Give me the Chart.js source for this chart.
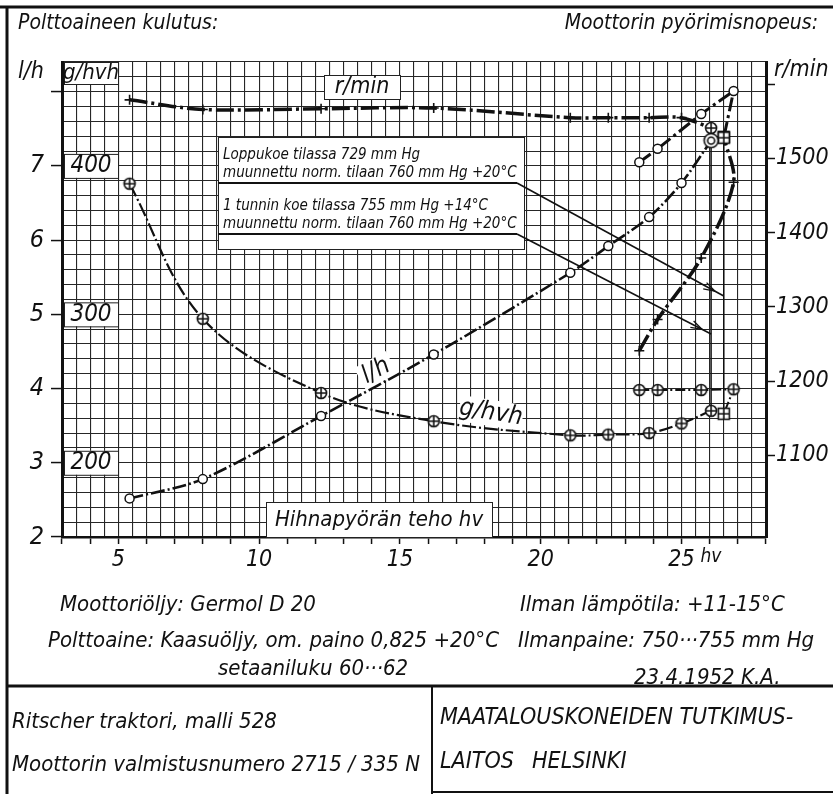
<!DOCTYPE html>
<html>
<head>
<meta charset="utf-8">
<script src="https://cdn.jsdelivr.net/npm/chart.js@4"></script>
<style>
  html, body { margin: 0; padding: 0; background: #fff; }
  #wrap { width: 833px; height: 794px; }
</style>
</head>
<body>
<div id="wrap"><canvas id="kulutusChart" width="833" height="794"></canvas></div>
<script>
// Säädetty alue (1 tunnin koe -pisteeseen asti)
const tehoHv      = [5.4, 8.0, 12.2, 16.2, 21.05, 22.4, 23.85, 25.0, 26.05];
const kulutusLh   = [2.52, 2.78, 3.63, 4.46, 5.56, 5.92, 6.31, 6.77, 7.34];
const kulutusGhvh = [388, 297, 247, 228, 218.5, 219, 220, 226.5, 235];
const kierrosluku = [1579, 1566, 1567, 1568, 1555, 1555, 1555, 1555, 1541];

// Ylikuormitusalue + loppukoe
const ylikuormaHv   = [23.5, 24.15, 25.7, 26.85];
const ylikuormaLh   = [7.05, 7.23, 7.70, 8.01];
const ylikuormaGhvh = [249, 249, 249, 249.5];
const ylikuormaRpm  = [1241, 1283, 1366, 1468];
const loppukoeHv = [26.5];
const loppukoeLh = [7.38];
const loppukoeGhvh = [233];
const loppukoeRpm = [1529];

// akselien merkinnät
const tehoTicks = [5, 10, 15, 20, 25];
const lhTicks   = [2, 3, 4, 5, 6, 7];
const ghvhTicks = [200, 300, 400];
const rpmTicks  = [1100, 1200, 1300, 1400, 1500];

const F = '"Liberation Sans Narrow", "DejaVu Sans Condensed", "Liberation Sans", sans-serif';
const font = size => 'italic ' + size + 'px ' + F;

function makeMarker(kind, r) {
  const s = Math.ceil(r * 2 + 5), c = document.createElement('canvas');
  c.width = s; c.height = s;
  const g = c.getContext('2d'), m = s / 2;
  g.strokeStyle = '#111'; g.fillStyle = '#fff'; g.lineWidth = 1.6;
  if (kind === 'square') {
    g.fillRect(m - r, m - r, 2 * r, 2 * r); g.strokeRect(m - r, m - r, 2 * r, 2 * r);
  } else {
    g.beginPath(); g.arc(m, m, r, 0, Math.PI * 2); g.fill(); g.stroke();
  }
  g.beginPath();
  if (kind === 'double') {
    g.arc(m, m, r * 0.5, 0, Math.PI * 2);
  } else {
    g.moveTo(m, m - r); g.lineTo(m, m + r); g.moveTo(m - r, m); g.lineTo(m + r, m);
  }
  g.stroke();
  return c;
}
const merkit = {
  oplus: makeMarker('oplus', 5.5),
  ruutu: makeMarker('square', 5.5),
  kaksois: makeMarker('double', 7)
};

const pts = (xs, ys) => xs.map((x, i) => ({ x: x, y: ys[i] }));
const lastIs = (n, special, normal) => c => (c.dataIndex === n - 1 ? special : normal);

const nG = tehoHv.length;
const datasets = [
  {
    label: 'g/hvh',
    yAxisID: 'yG',
    data: pts(tehoHv, kulutusGhvh),
    borderColor: '#111', borderWidth: 2.2, borderDash: [14, 3, 2, 3],
    tension: 0.35,
    pointStyle: c => merkit.oplus
  },
  {
    label: 'g/hvh ylikuorma',
    yAxisID: 'yG',
    data: pts(ylikuormaHv.concat(loppukoeHv), ylikuormaGhvh.concat(loppukoeGhvh)),
    borderColor: '#111', borderWidth: 2, borderDash: [10, 3, 2, 3],
    tension: 0,
    pointStyle: lastIs(5, merkit.ruutu, merkit.oplus)
  },
  {
    label: 'l/h',
    yAxisID: 'y',
    data: pts(tehoHv, kulutusLh),
    borderColor: '#111', borderWidth: 2.6, borderDash: [14, 3, 2, 3],
    tension: 0.3,
    pointStyle: lastIs(nG, merkit.kaksois, 'circle'),
    pointRadius: 4.5, pointBackgroundColor: '#fff', pointBorderColor: '#111', pointBorderWidth: 1.5
  },
  {
    label: 'l/h ylikuorma',
    yAxisID: 'y',
    data: pts(ylikuormaHv.concat(loppukoeHv), ylikuormaLh.concat(loppukoeLh)),
    borderColor: '#111', borderWidth: 3, borderDash: [14, 4, 3, 4],
    tension: 0,
    pointStyle: lastIs(5, merkit.ruutu, 'circle'),
    pointRadius: 4.5, pointBackgroundColor: '#fff', pointBorderColor: '#111', pointBorderWidth: 1.5
  },
  {
    label: 'r/min',
    yAxisID: 'yR',
    data: pts(tehoHv, kierrosluku),
    borderColor: '#111', borderWidth: 3.5, borderDash: [18, 4, 3, 4],
    tension: 0.3,
    pointStyle: lastIs(nG, merkit.oplus, 'cross'),
    pointRadius: 5, pointBorderColor: '#111', pointBorderWidth: 1.6
  },
  {
    label: 'r/min ylikuorma',
    yAxisID: 'yR',
    data: pts(ylikuormaHv.concat(loppukoeHv), ylikuormaRpm.concat(loppukoeRpm)),
    borderColor: '#111', borderWidth: 3.5, borderDash: [18, 4, 3, 4],
    tension: 0.3,
    pointStyle: lastIs(5, merkit.ruutu, 'cross'),
    pointRadius: 5, pointBorderColor: '#111', pointBorderWidth: 1.6
  }
];

const near = (v, list) => list.some(t => Math.abs(t - v) < 1e-6);

function box(ctx, l, t, w, h) {
  ctx.fillStyle = '#fff';
  ctx.fillRect(l, t, w, h);
  ctx.strokeStyle = '#222';
  ctx.lineWidth = 1;
  ctx.strokeRect(l + 0.5, t + 0.5, w, h);
}
function text(ctx, s, xx, yy, size, align) {
  ctx.font = font(size);
  ctx.fillStyle = '#111';
  ctx.textAlign = align || 'left';
  ctx.textBaseline = 'middle';
  ctx.fillText(s, xx, yy);
}
function line(ctx, x1, y1, x2, y2, w) {
  ctx.beginPath();
  ctx.lineWidth = w;
  ctx.strokeStyle = '#111';
  ctx.moveTo(x1, y1);
  ctx.lineTo(x2, y2);
  ctx.stroke();
}
function arrow(ctx, x1, y1, x2, y2) {
  line(ctx, x1, y1, x2, y2, 1.6);
  const a = Math.atan2(y2 - y1, x2 - x1), L = 12;
  const bx = x2 - Math.cos(a) * 10, by = y2 - Math.sin(a) * 10;
  line(ctx, bx, by, bx - L * Math.cos(a - 0.3), by - L * Math.sin(a - 0.3), 1.3);
  line(ctx, bx, by, bx - L * Math.cos(a + 0.3), by - L * Math.sin(a + 0.3), 1.3);
}

const piirrokset = {
  id: 'piirrokset',
  beforeDatasetsDraw(chart) {
    const ctx = chart.ctx;
    const { x, y, yG, yR } = chart.scales;
    ctx.save();

    // pystyviivat kokeiden pisteistä
    const xh = x.getPixelForValue(tehoHv[nG - 1]);
    line(ctx, xh, yR.getPixelForValue(kierrosluku[nG - 1]), xh, yG.getPixelForValue(kulutusGhvh[nG - 1]), 1.5);
    const xl = x.getPixelForValue(loppukoeHv[0]);
    line(ctx, xl, yR.getPixelForValue(loppukoeRpm[0]), xl, yG.getPixelForValue(loppukoeGhvh[0]), 1.5);

    // akselien otsikkolaatikot
    box(ctx, 64, chart.chartArea.top, 54, 22);
    text(ctx, 'g/hvh', 91, chart.chartArea.top + 11, 22, 'center');
    ghvhTicks.forEach(v => {
      const cy = yG.getPixelForValue(v);
      box(ctx, 64, cy - 12, 54, 24);
      text(ctx, String(v), 91, cy, 24, 'center');
    });
    box(ctx, 324, 75, 76, 24);
    text(ctx, 'r/min', 362, 87, 23, 'center');

    // selitelaatikko
    box(ctx, 218, 137, 306, 112);
    text(ctx, 'Loppukoe tilassa 729 mm Hg', 223, 155, 15);
    text(ctx, 'muunnettu norm. tilaan 760 mm Hg +20°C', 223, 173, 15);
    text(ctx, '1 tunnin koe tilassa 755 mm Hg +14°C', 223, 206, 15);
    text(ctx, 'muunnettu norm. tilaan 760 mm Hg +20°C', 223, 224, 15);
    line(ctx, 218, 183, 517, 183, 2);
    line(ctx, 218, 234, 517, 234, 2);
    arrow(ctx, 517, 183, xl, 296);
    arrow(ctx, 517, 234, xh, 334);

    // x-akselin nimi
    box(ctx, 266, 502, 226, chart.chartArea.bottom - 502);
    text(ctx, 'Hihnapyörän teho hv', 379, 520, 22, 'center');

    // käyrien nimet
    ctx.save();
    ctx.translate(376, 371);
    ctx.rotate(-0.5);
    ctx.fillStyle = '#fff';
    ctx.fillRect(-18, -13, 36, 26);
    text(ctx, 'l/h', 0, 0, 25, 'center');
    ctx.restore();
    ctx.save();
    ctx.translate(491, 413);
    ctx.rotate(0.16);
    ctx.fillStyle = '#fff';
    ctx.fillRect(-32, -13, 64, 26);
    text(ctx, 'g/hvh', 0, 0, 25, 'center');
    ctx.restore();

    ctx.restore();
  },
  afterDraw(chart) {
    const ctx = chart.ctx;
    const { x } = chart.scales;
    ctx.save();
    // kehykset
    line(ctx, 0, 7, 833, 7, 3);
    line(ctx, 7, 7, 7, 794, 3);
    line(ctx, 7, 686, 833, 686, 3);
    line(ctx, 432, 686, 432, 794, 2);
    line(ctx, 432, 792, 833, 792, 2);

    text(ctx, 'Polttoaineen kulutus:', 18, 24, 21);
    text(ctx, 'Moottorin pyörimisnopeus:', 818, 24, 21, 'right');
    text(ctx, 'l/h', 18, 72, 23);
    text(ctx, 'r/min', 774, 70, 23);
    text(ctx, 'hv', x.getPixelForValue(25) + 19, 557, 19);

    text(ctx, 'Moottoriöljy: Germol D 20', 60, 605, 22);
    text(ctx, 'Polttoaine: Kaasuöljy, om. paino 0,825 +20°C', 48, 641, 22);
    text(ctx, 'setaaniluku 60···62', 218, 669, 22);
    text(ctx, 'Ilman lämpötila: +11-15°C', 520, 605, 22);
    text(ctx, 'Ilmanpaine: 750···755 mm Hg', 518, 641, 22);
    text(ctx, '23.4.1952 K.A.', 634, 678, 22);
    text(ctx, 'Ritscher traktori, malli 528', 12, 722, 22);
    text(ctx, 'Moottorin valmistusnumero 2715 / 335 N', 12, 765, 22);
    text(ctx, 'MAATALOUSKONEIDEN TUTKIMUS-', 440, 718, 23);
    text(ctx, 'LAITOS', 440, 762, 23);
    text(ctx, 'HELSINKI', 532, 762, 23);
    ctx.restore();
  }
};

function stepTicks(min, max, step) {
  const out = [];
  for (let v = min; v <= max + 1e-9; v += step) out.push({ value: Math.round(v * 100) / 100 });
  return out;
}

new Chart(document.getElementById('kulutusChart').getContext('2d'), {
  type: 'scatter',
  data: { datasets: datasets.map(d => Object.assign({ showLine: true, fill: false }, d)) },
  plugins: [piirrokset],
  options: {
    responsive: false,
    animation: false,
    events: [],
    layout: { padding: { top: 62, bottom: 221, left: 0, right: 0 } },
    plugins: { legend: { display: false }, tooltip: { enabled: false } },
    scales: {
      x: {
        type: 'linear', min: 3, max: 28,
        afterBuildTicks: s => { s.ticks = stepTicks(3, 28, 0.5); },
        afterFit: s => { s.height = 36; },
        border: { color: '#111', width: 2.5 },
        grid: {
          color: '#262626', lineWidth: 1.1, tickLength: 7,
          tickColor: c => (c.tick && Number.isInteger(c.tick.value) ? '#111' : 'rgba(0,0,0,0)'),
          tickWidth: 1.5
        },
        ticks: {
          autoSkip: false, maxRotation: 0, padding: 2, color: '#111',
          font: { family: F, style: 'italic', size: 23 },
          callback: v => (near(v, tehoTicks) ? String(v) : '')
        }
      },
      y: {
        type: 'linear', position: 'left', min: 2, max: 8.4,
        afterBuildTicks: s => { s.ticks = stepTicks(2, 8.4, 0.2); },
        afterFit: s => { s.width = 62; },
        border: { color: '#111', width: 3 },
        grid: {
          color: '#262626', lineWidth: 1.1, tickLength: 11,
          tickColor: c => (c.tick && near(c.tick.value, lhTicks.concat([8])) ? '#111' : 'rgba(0,0,0,0)'),
          tickWidth: 1.5
        },
        ticks: {
          autoSkip: false, padding: 7, color: '#111',
          font: { family: F, style: 'italic', size: 25 },
          callback: v => (near(v, lhTicks) ? String(v) : '')
        }
      },
      yG: {
        type: 'linear', display: false, min: 150, max: 470
      },
      yR: {
        type: 'linear', position: 'right', min: 990, max: 1630,
        afterBuildTicks: s => { s.ticks = rpmTicks.concat([1600]).map(v => ({ value: v })); },
        afterFit: s => { s.width = 67; },
        border: { color: '#111', width: 3 },
        grid: { drawOnChartArea: false, tickLength: 9, tickColor: '#111', tickWidth: 1.5 },
        ticks: {
          padding: 1, color: '#111',
          font: { family: F, style: 'italic', size: 23 },
          callback: v => (near(v, rpmTicks) ? String(v) : '')
        }
      }
    }
  }
});
</script>
</body>
</html>
